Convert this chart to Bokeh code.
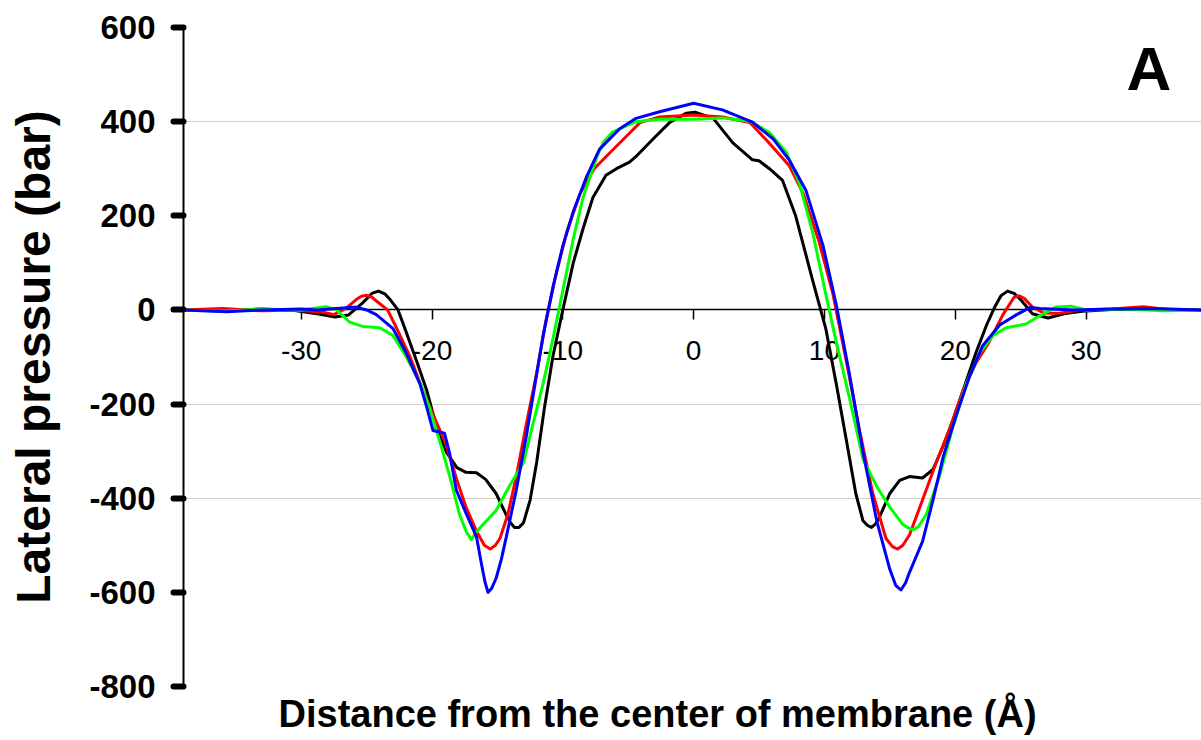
from bokeh.plotting import figure
from bokeh.models import Range1d, FixedTicker, Label, Title
from bokeh.embed import file_html
from bokeh.resources import INLINE

# ---- data ----
black_x = [-39, -36, -33, -30.5, -28.8, -27.4, -26.4, -25.3, -24.6, -24.1, -23.6, -23.2, -22.6, -22.0,
           -21.1, -20.4, -19.7, -18.9, -18.1, -17.4, -16.6, -15.9, -15.1, -14.3, -14.0, -13.7, -13.35,
           -13.0, -12.5, -12.0, -11.4, -10.75, -10.0, -9.2, -8.45, -7.7, -6.7, -5.9, -4.9, -4.4, -3.1,
           -1.8, -0.55, 0.1, 1.5, 3.0, 4.5, 5.0, 5.8, 6.8, 7.8, 9.1, 10.1, 10.9, 11.7, 12.4, 12.95,
           13.3, 13.6, 13.9, 14.2, 15.0, 15.75, 16.5, 17.5, 18.3, 19.1, 19.8, 20.6, 21.6, 22.4, 23.0,
           23.5, 24.0, 24.5, 25.0, 25.9, 27.1, 28.3, 29.7, 32, 35, 38.8]
black_y = [0, -2, 2, -1, -8, -15, -11, 15, 35, 40, 34, 22, 0, -45,
           -115, -171, -244, -302, -335, -345, -346, -360, -390, -437, -452, -462, -462,
           -452, -404, -324, -207, -98, 0, 100, 173, 239, 286, 300, 314, 326, 363,
           399, 418, 420, 407, 355, 319, 317, 300, 275, 200, 63, -39, -156, -280, -390, -448,
           -458, -462, -455, -441, -390, -362, -354, -357, -339, -288, -236, -171, -90, -32, 5,
           30, 40, 35, 22, -8, -17, -8, -3, 1, 2, 0]

red_x = [-39, -36, -33, -30.5, -28.3, -27.5, -26.6, -25.8, -25.4, -25.0, -24.6, -24.3, -23.4, -22.7,
         -21.7, -20.7, -19.7, -18.9, -18.1, -17.4, -16.6, -16.0, -15.55, -15.15, -14.8, -14.2, -13.55,
         -12.8, -12.0, -11.3, -10.5, -9.7, -8.7, -7.6, -6.4, -5.1, -4.1, -2.6, 0, 2.2, 4.3, 5.6, 7.3,
         8.4, 9.6, 10.65, 11.7, 12.7, 13.7, 14.7, 15.2, 15.6, 16.0, 16.5, 17.5, 18.55, 19.6, 20.6,
         21.6, 22.6, 23.65, 24.5, 24.9, 25.3, 25.9, 26.8, 28.0, 29.4, 32, 34.4, 36.5, 38.8]
red_y = [0, 3, -2, 0, -5, -10, 3, 22, 29, 31, 27, 20, 0, -39,
         -98, -171, -236, -288, -361, -419, -470, -500, -508, -500, -485, -434, -353,
         -244, -134, -24, 78, 165, 246, 300, 334, 370, 398, 410, 414, 410, 398, 360, 307,
         246, 144, 34, -112, -258, -390, -485, -503, -508, -500, -478, -404, -324, -251, -171,
         -112, -68, -10, 27, 30, 24, 6, -7, -7, 0, 2, 7, 0, 0]

green_x = [-39, -36, -33, -30.1, -28.1, -27.3, -26.3, -25.3, -24.0, -23.0, -22.0, -20.9, -20.2, -19.4,
           -18.65, -17.9, -17.4, -17.0, -16.6, -16.1, -15.1, -14.1, -13.0, -12.3, -11.5, -10.75, -10.0,
           -9.2, -8.45, -7.4, -6.9, -6.2, -4.4, -2.6, 0, 2.2, 4.3, 5.8, 7.1, 8.1, 9.1, 10.1, 10.9,
           11.9, 12.95, 14.0, 15.0, 16.0, 16.4, 16.8, 17.2, 17.8, 18.8, 19.8, 20.85, 21.9, 22.9, 23.9,
           25.4, 26.5, 27.7, 28.85, 30.0, 33, 36, 38.8]
green_y = [0, -3, 2, 0, 7, 0, -26, -35, -38, -54, -98, -156, -207, -280,
           -353, -434, -470, -488, -472, -456, -426, -375, -324, -244, -156, -61, 41,
           151, 239, 325, 356, 378, 400, 405, 405, 408, 401, 377, 334, 268, 165, 34, -68,
           -185, -317, -375, -419, -456, -463, -467, -460, -434, -353, -251, -156, -90, -54, -38,
           -30, -12, 6, 8, 0, 2, -2, 0]

blue_x = [-39, -35.7, -33, -30, -28.8, -27.3, -25.8, -25.0, -24.26, -23.0, -22.0, -20.94, -20.4, -19.93,
          -19.04, -18.65, -18.14, -17.4, -16.6, -16.23, -15.95, -15.72, -15.45, -15.1, -14.7, -14.32,
          -13.56, -12.8, -12.29, -11.5, -10.75, -10.0, -9.2, -8.2, -7.2, -5.65, -4.4, -2.6, 0, 2.2,
          4.5, 6.1, 7.3, 8.6, 9.9, 10.9, 11.9, 12.95, 14.0, 15.0, 15.45, 15.85, 16.2, 16.5, 17.5,
          18.3, 19.1, 20.1, 21.1, 22.1, 23.4, 24.7, 25.7, 26.5, 29, 32, 35, 38.8]
blue_y = [0, -4, 0, 2, 0, 3, 6, 0, -10, -39, -90, -156, -207, -256,
          -262, -305, -383, -432, -482, -538, -578, -600, -592, -570, -530, -482,
          -383, -270, -185, -54, 49, 136, 209, 282, 341, 385, 407, 421, 439, 425,
          399, 363, 319, 253, 136, 12, -134, -302, -448, -551, -585, -595, -580, -558, -492,
          -404, -310, -222, -141, -76, -32, -10, 5, 3, 0, 2, 3, 0]

series = [(black_x, black_y, "#000000"), (red_x, red_y, "#ff0000"),
          (green_x, green_y, "#00ff00"), (blue_x, blue_y, "#0000ff")]

x_ticks = [-30, -20, -10, 0, 10, 20, 30]
y_ticks = [-800, -600, -400, -200, 0, 200, 400, 600]
grid_ticks = [-400, -200, 400]

x_title = "Distance from the center of membrane (Å)"
y_title = "Lateral pressure (bar)"
panel_letter = "A"

FONT = "Liberation Sans"

p = figure(width=1201, height=740, output_backend="svg", toolbar_location=None,
           x_range=Range1d(-39, 38.83), y_range=Range1d(-800, 600),
           min_border_left=183, min_border_right=0, min_border_top=27, min_border_bottom=54)
p.outline_line_color = None
p.background_fill_color = "white"
p.border_fill_color = "white"

# grid
p.xgrid.visible = False
p.ygrid.ticker = FixedTicker(ticks=grid_ticks)
p.ygrid.grid_line_color = "#d4d0c8"
p.ygrid.grid_line_width = 1

# x axis crossing at y = 0
xa = p.xaxis[0]
xa.fixed_location = 0
xa.level = "underlay"
xa.ticker = FixedTicker(ticks=x_ticks)
xa.major_label_overrides = {t: str(t) for t in x_ticks}
xa.axis_line_width = 1.5
xa.axis_line_color = "black"
xa.major_tick_out = 10
xa.major_tick_in = 0
xa.major_tick_line_width = 1.5
xa.minor_tick_line_color = None
xa.major_label_text_font = FONT
xa.major_label_text_font_size = "28px"
xa.major_label_text_font_style = "normal"
xa.major_label_text_color = "black"
xa.major_label_standoff = 21

# y axis
ya = p.yaxis[0]
ya.ticker = FixedTicker(ticks=y_ticks)
ya.major_label_overrides = {t: str(t) for t in y_ticks}
ya.axis_line_width = 2
ya.axis_line_color = "black"
ya.major_tick_out = 10
ya.major_tick_in = 0
ya.major_tick_line_width = 6
ya.major_tick_line_cap = "round"
ya.minor_tick_line_color = None
ya.major_label_text_font = FONT
ya.major_label_text_font_size = "33px"
ya.major_label_text_font_style = "bold"
ya.major_label_text_color = "black"
ya.major_label_standoff = 18
ya.axis_label = y_title
ya.axis_label_text_font = FONT
ya.axis_label_text_font_size = "48px"
ya.axis_label_text_font_style = "bold"
ya.axis_label_text_color = "black"
ya.axis_label_standoff = 26

for xs, ys, c in series:
    p.line(xs, ys, line_color=c, line_width=3, line_join="round")

xt = Title(text=x_title, align="left", offset=95, vertical_align="bottom", standoff=9,
           text_font=FONT, text_font_size="38px", text_font_style="bold", text_color="black")
p.add_layout(xt, "below")

p.add_layout(Label(x=34.8, y=513, text=panel_letter, text_font=FONT, text_font_size="62px",
                   text_font_style="bold", text_align="center", text_baseline="alphabetic",
                   text_color="black"))

open("out.html", "w").write(file_html(p, INLINE))
